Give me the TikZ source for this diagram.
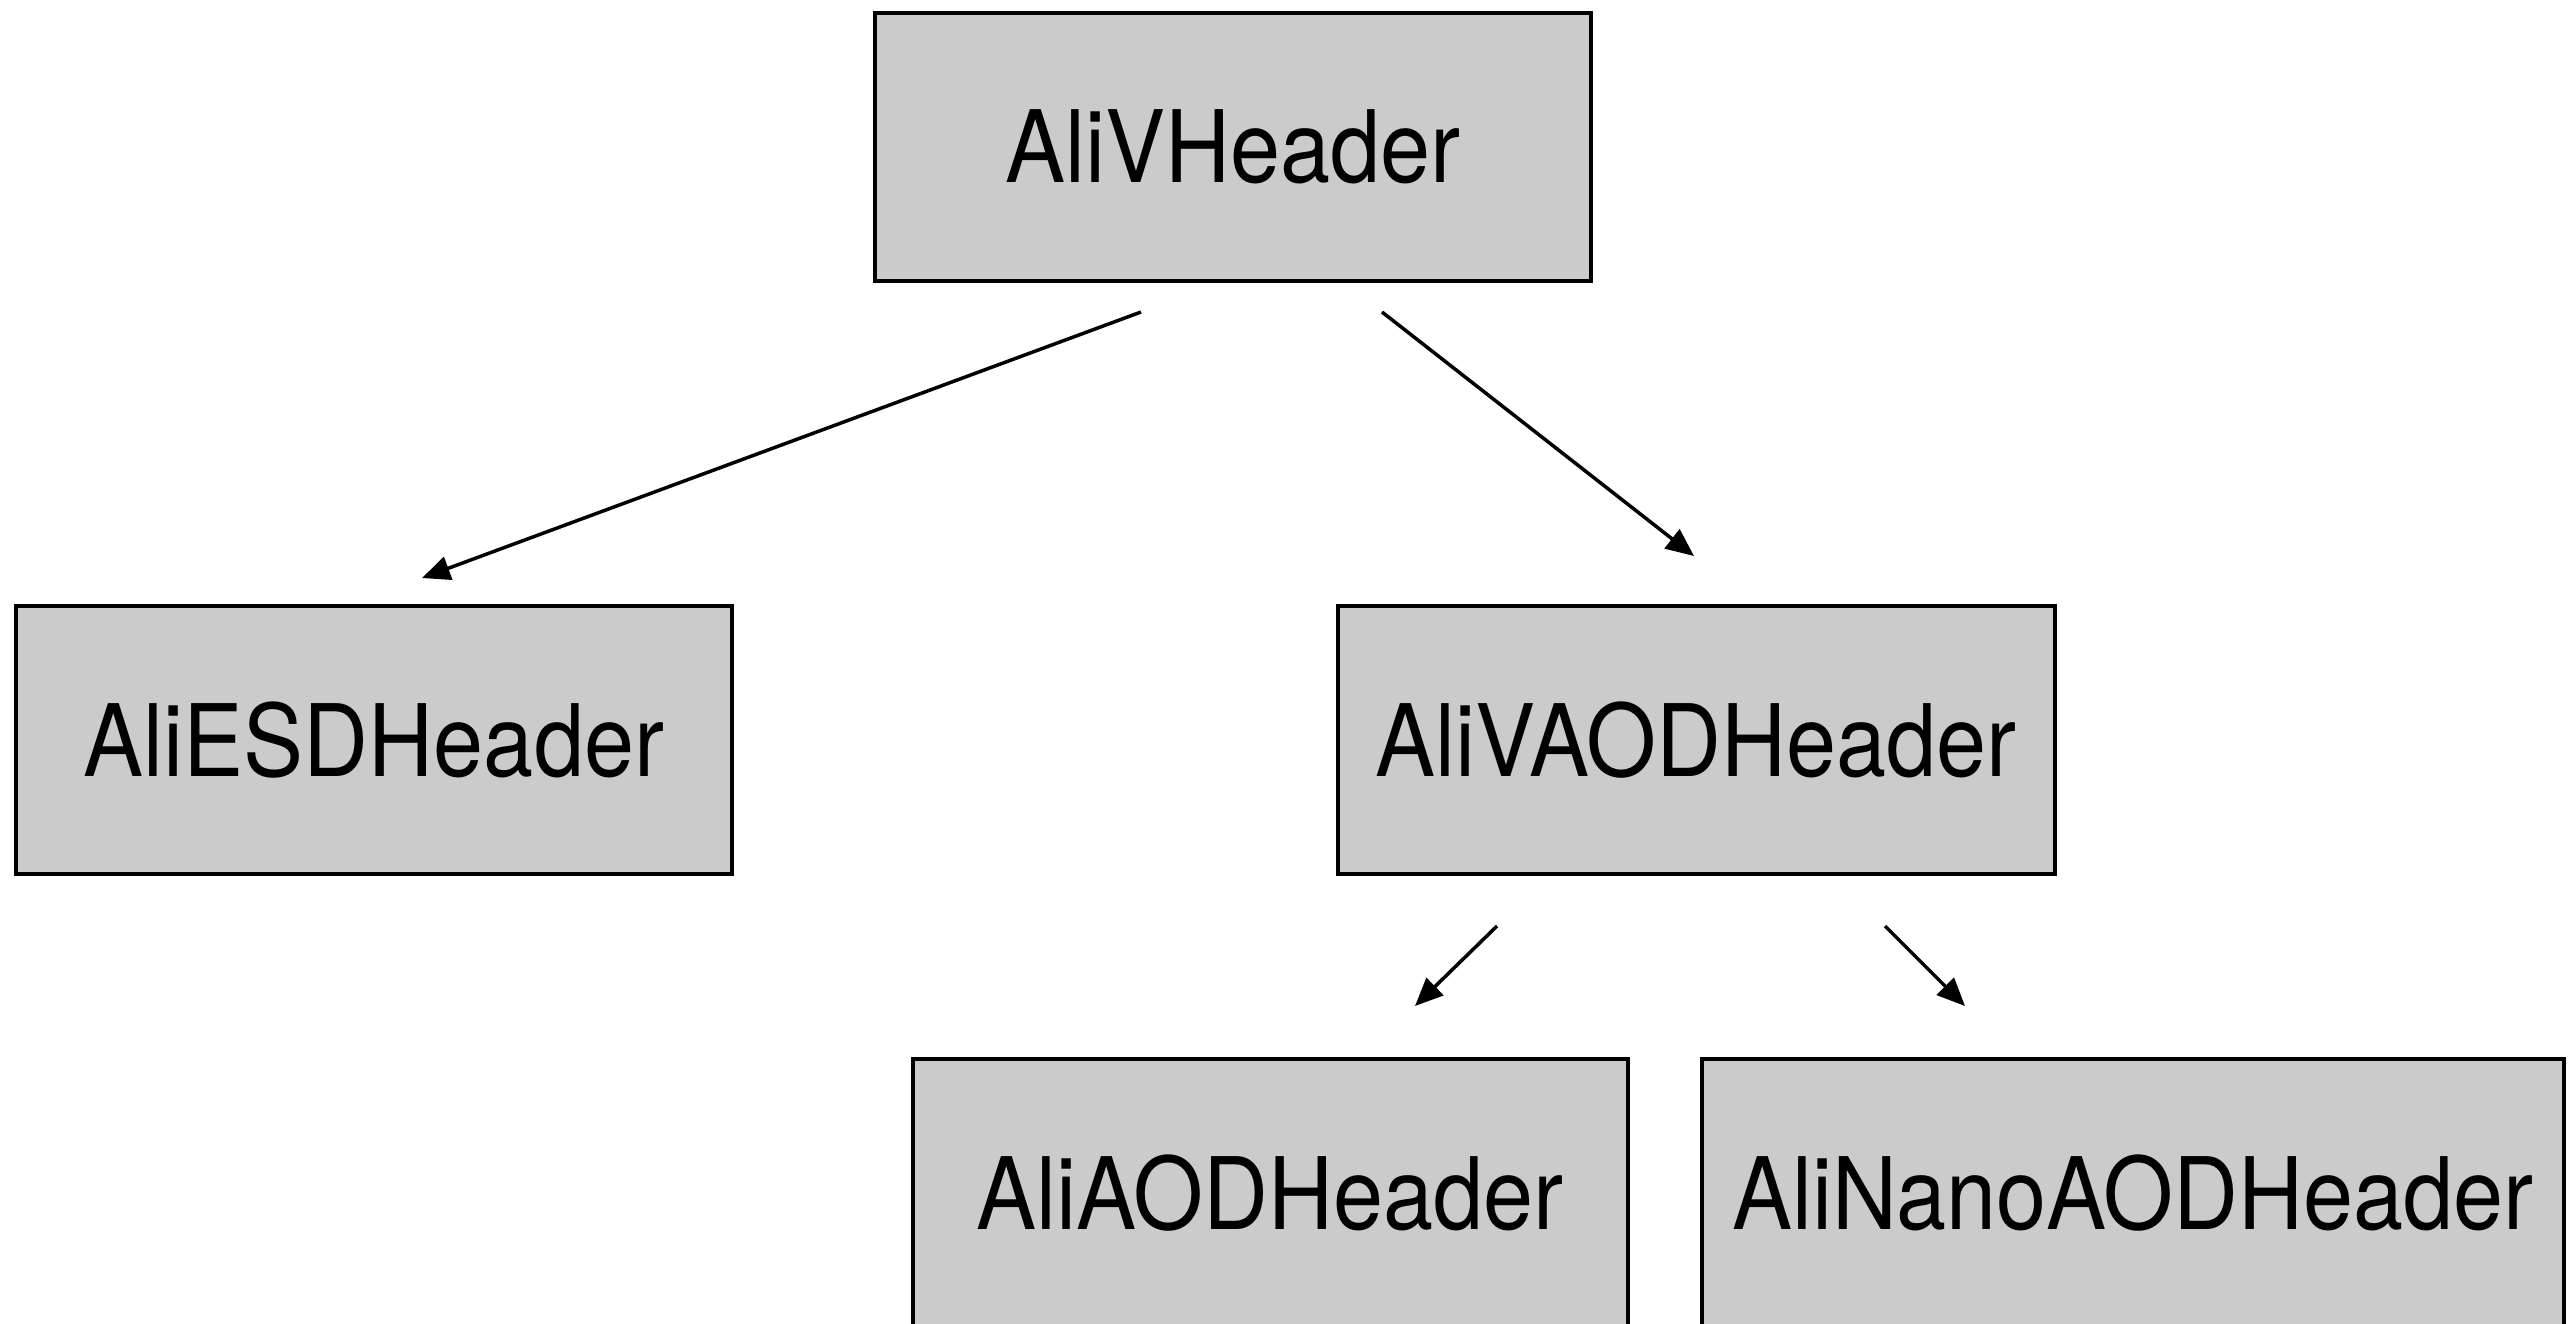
\documentclass[tikz,border=0pt]{standalone}
\usepackage{fontspec}
\setmainfont{TeX Gyre Heros}
\usetikzlibrary{arrows.meta}
\definecolor{boxgray}{HTML}{CBCBCB}
\tikzset{
  classbox/.style={draw=black, line width=4pt, fill=boxgray, inner sep=0pt,
    minimum height=268pt, font=\fontsize{100}{110}\selectfont},
  inherit/.style={line width=3.5pt, -{Triangle[length=28pt,width=24pt]}},
}
\newcommand{\cls}[1]{\scalebox{0.9}[1]{#1}}
\begin{document}
\begin{tikzpicture}[x=1pt, y=-1pt]
  \useasboundingbox (0,0) rectangle (2574,1323);
  \clip (0,0) rectangle (2574,1323);
  \fill[white] (0,0) rectangle (2574,1323);

  % class boxes
  \node[classbox, minimum width=716pt] (vheader)  at (1233,147)  {\cls{AliVHeader}};
  \node[classbox, minimum width=716pt] (esd)      at (374,740)   {\cls{AliESDHeader}};
  \node[classbox, minimum width=717pt] (vaod)     at (1696,740)  {\cls{AliVAODHeader}};
  \node[classbox, minimum width=715pt] (aod)      at (1270,1193) {\cls{AliAODHeader}};
  \node[classbox, minimum width=862pt] (nanoaod)  at (2133,1193) {\cls{AliNanoAODHeader}};

  % free-floating ends of the inheritance arrows
  \coordinate (v2esdA) at (1141,312);
  \coordinate (v2esdB) at (422,578);
  \coordinate (v2vaodA) at (1382,312);
  \coordinate (v2vaodB) at (1694,556);
  \coordinate (va2aodA) at (1497,926);
  \coordinate (va2aodB) at (1415,1006);
  \coordinate (va2nanoA) at (1885,926);
  \coordinate (va2nanoB) at (1965,1006);

  \draw[inherit] (v2esdA) -- (v2esdB);
  \draw[inherit] (v2vaodA) -- (v2vaodB);
  \draw[inherit] (va2aodA) -- (va2aodB);
  \draw[inherit] (va2nanoA) -- (va2nanoB);
\end{tikzpicture}
\end{document}
